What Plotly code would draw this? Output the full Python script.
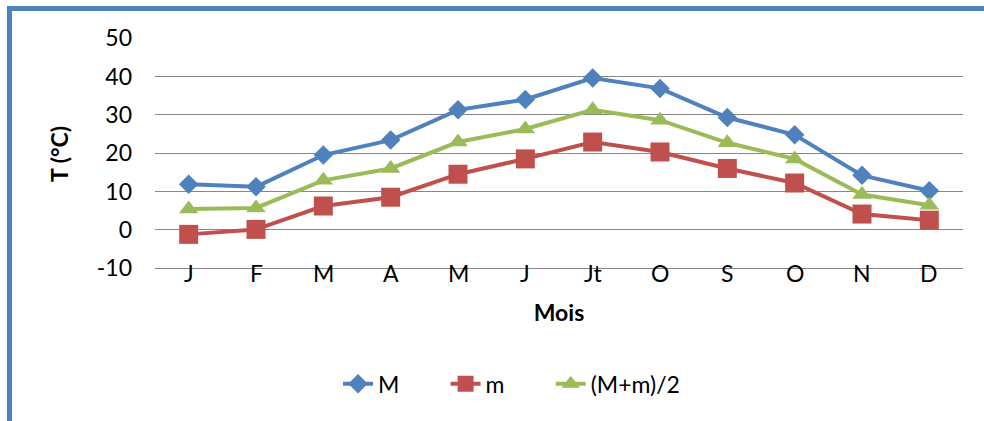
import plotly.graph_objects as go

months = ["J", "F", "M", "A", "M", "J", "Jt", "O", "S", "O", "N", "D"]
M_vals = [11.9, 11.2, 19.5, 23.4, 31.3, 34.0, 39.6, 36.9, 29.3, 24.8, 14.2, 10.2]
m_vals = [-1.2, 0.1, 6.2, 8.5, 14.5, 18.5, 22.9, 20.3, 16.0, 12.2, 4.1, 2.5]
avg_vals = [5.4, 5.7, 12.9, 16.0, 22.9, 26.3, 31.3, 28.6, 22.7, 18.5, 9.2, 6.4]
y_ticks = [-10, 0, 10, 20, 30, 40, 50]
y_ticktext = ["-10", "0", "10", "20", "30", "40", "50"]
series_names = ["M", "m", "(M+m)/2"]

x_idx = list(range(len(months)))
y_min = y_ticks[0]

FONT = "Lato"
FS = 23
PAD = "\u00a0" * 7
fig = go.Figure()
fig.add_trace(go.Scatter(x=x_idx, y=M_vals, name=series_names[0] + PAD, mode="lines+markers",
                         line=dict(color="#4F81BD", width=4),
                         marker=dict(symbol="diamond", size=15, color="#4F81BD")))
fig.add_trace(go.Scatter(x=x_idx, y=m_vals, name=series_names[1] + PAD, mode="lines+markers",
                         line=dict(color="#C0504D", width=4),
                         marker=dict(symbol="square", size=19, color="#C0504D")))
fig.add_trace(go.Scatter(x=x_idx, y=avg_vals, name=series_names[2], mode="lines+markers",
                         line=dict(color="#9BBB59", width=4),
                         marker=dict(symbol="triangle-up", size=17, color="#9BBB59")))

# category labels sit on the -10 line, as in the original
month_labels = [dict(x=i, y=y_min, xref="x", yref="y", text=lab, showarrow=False,
                     yanchor="middle", xanchor="center", yshift=-5,
                     font=dict(family=FONT, size=FS, color="#000000"))
                for i, lab in zip(x_idx, months)]

fig.update_layout(
    width=984, height=421,
    margin=dict(l=155, r=21, t=38, b=151),
    plot_bgcolor="white", paper_bgcolor="white",
    font=dict(family=FONT, size=FS, color="#000000"),
    showlegend=True,
    legend=dict(orientation="h", x=0.2265, xanchor="left", y=-0.49, yanchor="middle",
                font=dict(family=FONT, size=FS, color="#000000"),
                itemwidth=30, tracegroupgap=0),
    xaxis=dict(range=[-0.5, 11.5], showgrid=False, zeroline=False,
               showline=False, ticks="", showticklabels=False,
               title=dict(text="<b>Mois</b>", font=dict(family=FONT, size=FS), standoff=34)),
    yaxis=dict(tickmode="array", tickvals=y_ticks, ticktext=y_ticktext, range=[-10.5, 50.05],
               showgrid=True, gridcolor="#878787", gridwidth=1,
               zeroline=False, showline=False, ticks="", ticklabelstandoff=22,
               title=dict(text="<b>T (°C)</b>", font=dict(family=FONT, size=FS), standoff=21)),
    annotations=month_labels,
    shapes=[
        dict(type="line", xref="paper", yref="paper", x0=-145/808, x1=1 + 21/808,
             y0=1 + 29.5/232, y1=1 + 29.5/232, line=dict(color="#4F81BD", width=5)),
        dict(type="line", xref="paper", yref="paper", x0=-145.5/808, x1=-145.5/808,
             y0=1 + 32/232, y1=-153/232, line=dict(color="#4F81BD", width=5)),
    ],
)

fig.write_html("out.html")
